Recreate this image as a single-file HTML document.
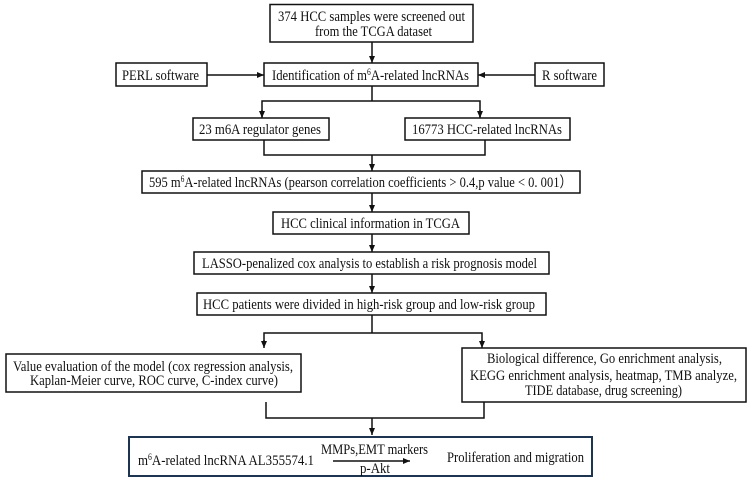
<!DOCTYPE html>
<html><head><meta charset="utf-8"><style>
html,body{margin:0;padding:0;background:#fff;}
svg{display:block;}
text{font-family:"Liberation Serif",serif;font-size:15px;fill:#111;}
</style></head><body>
<svg width="751" height="481" viewBox="0 0 751 481" xmlns="http://www.w3.org/2000/svg">
<defs>
<marker id="a" markerWidth="8" markerHeight="8" refX="7" refY="4" orient="auto" markerUnits="userSpaceOnUse">
<path d="M0,1 L7,4 L0,7 Z" fill="#111"/></marker>
</defs>
<g fill="none" stroke="#111" stroke-width="1.5">
<rect x="270" y="4.5" width="203" height="37.5"/>
<rect x="116" y="63" width="91" height="23"/>
<rect x="264" y="63" width="214" height="23"/>
<rect x="535" y="63" width="69" height="23"/>
<rect x="193" y="118" width="136" height="22"/>
<rect x="405" y="118" width="165" height="22"/>
<rect x="142" y="171" width="438" height="22"/>
<rect x="273" y="212" width="196" height="22"/>
<rect x="194" y="252" width="355" height="22"/>
<rect x="197" y="293" width="349" height="22"/>
<rect x="6" y="354" width="295" height="38"/>
<rect x="462" y="348" width="284" height="54"/>
<line x1="372" y1="42" x2="372" y2="63" marker-end="url(#a)"/>
<line x1="207" y1="75" x2="264" y2="75" marker-end="url(#a)"/>
<line x1="535" y1="75" x2="478" y2="75" marker-end="url(#a)"/>
<polyline points="372,86 372,101"/>
<polyline points="262,117 262,101 480,101 480,117" />
<line x1="262" y1="110" x2="262" y2="118" marker-end="url(#a)"/>
<line x1="480" y1="110" x2="480" y2="118" marker-end="url(#a)"/>
<polyline points="264,140 264,155 485,155 485,140"/>
<line x1="372" y1="155" x2="372" y2="171" marker-end="url(#a)"/>
<line x1="372" y1="193" x2="372" y2="212" marker-end="url(#a)"/>
<line x1="372" y1="234" x2="372" y2="252" marker-end="url(#a)"/>
<line x1="372" y1="274" x2="372" y2="293" marker-end="url(#a)"/>
<polyline points="372,315 372,333"/>
<polyline points="264,346 264,333 482,333 482,346"/>
<line x1="264" y1="340" x2="264" y2="348" marker-end="url(#a)"/>
<line x1="482" y1="340" x2="482" y2="348" marker-end="url(#a)"/>
<polyline points="266,402 266,418 484,418 484,402"/>
<line x1="372" y1="418" x2="372" y2="435" marker-end="url(#a)"/>
<line x1="333" y1="461" x2="410" y2="461" marker-end="url(#a)"/>
</g>
<rect x="129" y="437" width="463" height="39" fill="none" stroke="#1e3552" stroke-width="2"/>
<text x="278" y="21" textLength="187" lengthAdjust="spacingAndGlyphs">374 HCC samples were screened out</text>
<text x="315" y="36" textLength="117" lengthAdjust="spacingAndGlyphs">from the TCGA dataset</text>
<text x="122" y="80" textLength="77" lengthAdjust="spacingAndGlyphs">PERL software</text>
<text x="272" y="80" textLength="197" lengthAdjust="spacingAndGlyphs">Identification of m<tspan font-size="9" dy="-5">6</tspan><tspan dy="5">A-related lncRNAs</tspan></text>
<text x="542" y="80" textLength="55" lengthAdjust="spacingAndGlyphs">R software</text>
<text x="199" y="134" textLength="122" lengthAdjust="spacingAndGlyphs">23 m6A regulator genes</text>
<text x="412" y="134" textLength="150" lengthAdjust="spacingAndGlyphs">16773 HCC-related lncRNAs</text>
<text x="149" y="187" textLength="423" lengthAdjust="spacingAndGlyphs">595 m<tspan font-size="9" dy="-5">6</tspan><tspan dy="5">A-related lncRNAs (pearson correlation coefficients  &gt; 0.4,p value &lt; 0. 001）</tspan></text>
<text x="281" y="228" textLength="179" lengthAdjust="spacingAndGlyphs">HCC clinical information in TCGA</text>
<text x="202" y="268" textLength="335" lengthAdjust="spacingAndGlyphs">LASSO-penalized cox analysis to establish a risk prognosis model</text>
<text x="203" y="309" textLength="332" lengthAdjust="spacingAndGlyphs">HCC patients were divided in high-risk group and low-risk group</text>
<text x="13" y="371" textLength="280" lengthAdjust="spacingAndGlyphs">Value evaluation of the model (cox regression analysis,</text>
<text x="30" y="385" textLength="248" lengthAdjust="spacingAndGlyphs">Kaplan-Meier curve, ROC curve, C-index curve)</text>
<text x="487" y="363" textLength="235" lengthAdjust="spacingAndGlyphs">Biological difference, Go enrichment analysis,</text>
<text x="470" y="380" textLength="267" lengthAdjust="spacingAndGlyphs">KEGG enrichment analysis, heatmap, TMB analyze,</text>
<text x="525" y="395" textLength="157" lengthAdjust="spacingAndGlyphs">TIDE database, drug screening)</text>
<text x="138" y="465" textLength="176" lengthAdjust="spacingAndGlyphs">m<tspan font-size="9" dy="-5">6</tspan><tspan dy="5">A-related lncRNA AL355574.1</tspan></text>
<text x="321" y="454" textLength="107" lengthAdjust="spacingAndGlyphs">MMPs,EMT markers</text>
<text x="360" y="473" font-size="14" textLength="30" lengthAdjust="spacingAndGlyphs">p-Akt</text>
<text x="447" y="462" textLength="137" lengthAdjust="spacingAndGlyphs">Proliferation and migration</text>
</svg>
</body></html>
